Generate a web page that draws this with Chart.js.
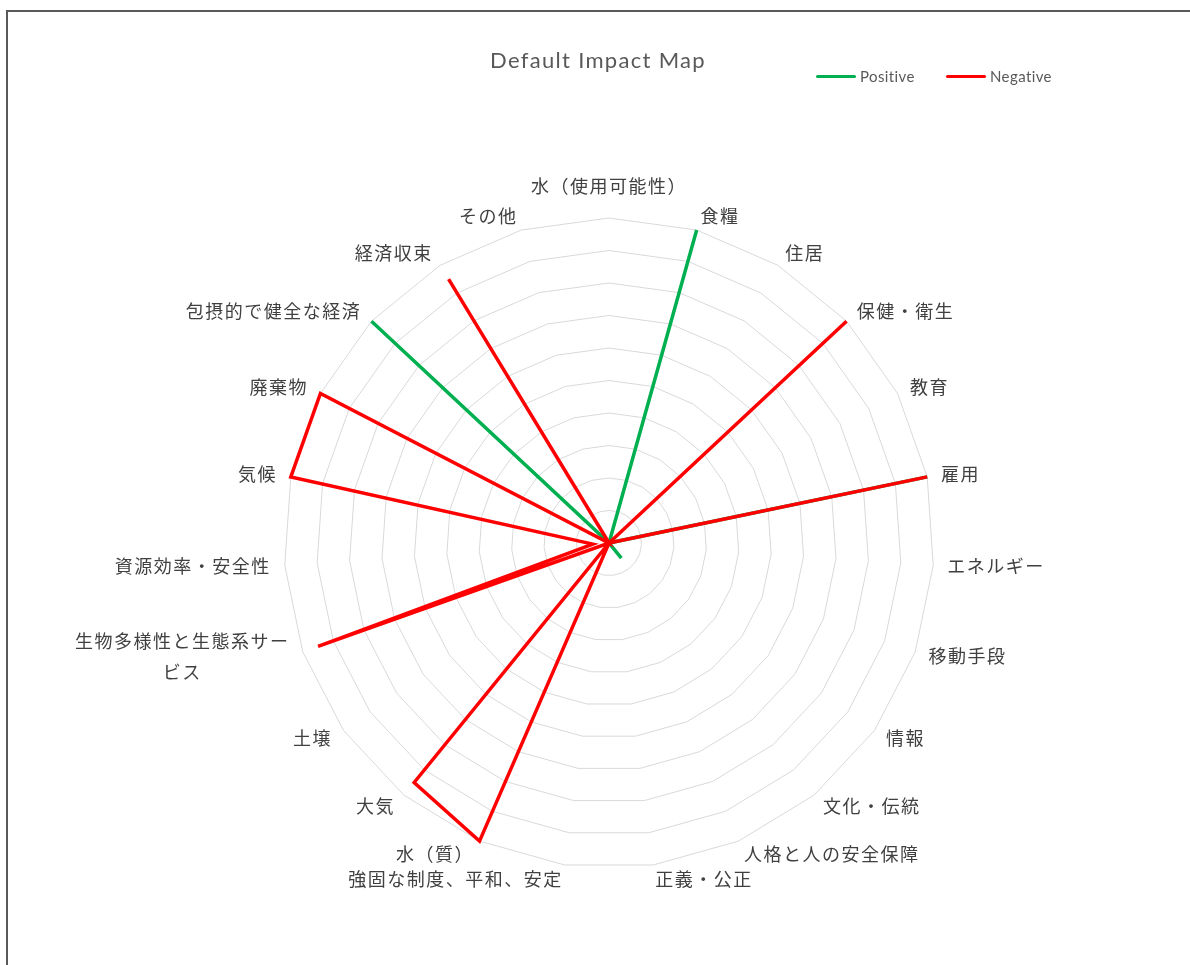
<!DOCTYPE html>
<html>
<head>
<meta charset="utf-8">
<script src="https://cdn.jsdelivr.net/npm/chart.js@4.4.1/dist/chart.umd.min.js"></script>
<style>
  html, body { margin: 0; padding: 0; background: #fff; overflow: hidden; }
  #frame { position: absolute; left: 6px; top: 10px; width: 1300px; height: 1100px; border: 2px solid #595959; box-sizing: border-box; }
  #chart { position: absolute; left: 0; top: 0; }
  #title { position: absolute; left: 0; top: 45px; width: 1196px; text-align: center; font: 22px Lato, sans-serif; letter-spacing: 1.3px; color: #595959; line-height: 30px; }
  .legend-item { position: absolute; top: 67px; height: 18px; display: flex; align-items: center; font: 15px Lato, sans-serif; color: #595959; letter-spacing: 0.4px; }
  .legend-item span.swatch { display: inline-block; width: 40px; height: 3px; border-radius: 2px; margin-right: 4px; }
</style>
</head>
<body>
<div id="frame"></div>
<canvas id="chart" width="1190" height="965"></canvas>
<div id="title">Default Impact Map</div>
<div class="legend-item" style="left:816px"><span class="swatch" style="background:#00B050"></span>Positive</div>
<div class="legend-item" style="left:946px"><span class="swatch" style="background:#FF0000"></span>Negative</div>
<script>
// categories, clockwise from the top
const categories = [
    '水（使用可能性）', '食糧', '住居', '保健・衛生', '教育', '雇用', 'エネルギー',
    '移動手段', '情報', '文化・伝統', '人格と人の安全保障', '正義・公正',
    '強固な制度、平和、安定', '水（質）', '大気', '土壌',
    ['生物多様性と生態系サー', 'ビス'], '資源効率・安全性', '気候', '廃棄物',
    '包摂的で健全な経済', '経済収束', 'その他'
];
const positiveValues = [0, 10, 0, 0, 0, 10, 0, 0, 0, 0.6, 0, 0, 0, 0, 0, 0, 0, 0, 0, 0, 10, 0, 0];
const negativeValues = [0, 0, 0, 10, 0, 10, 0, 0, 0, 0, 0, 0, 0, 10, 9.5, 0, 9.5, 0.5, 10, 10, 0, 9.5, 0];
const scaleMax = 10;

// Excel-like category labels drawn next to the outer ring
const labelPlugin = {
    id: 'impactLabels',
    afterDraw(chart) {
        const scale = chart.scales.r;
        const ctx = chart.ctx;
        const lineH = 31;
        ctx.save();
        ctx.font = '18px "Noto Sans CJK JP"';
        ctx.letterSpacing = '1.5px';
        ctx.fillStyle = '#404040';
        ctx.textBaseline = 'middle';
        ctx.textAlign = 'center';
        chart.data.labels.forEach((label, i) => {
            const lines = Array.isArray(label) ? label : [label];
            const angle = scale.getIndexAngle(i);
            const pos = scale.getPointPosition(i, scale.drawingArea + 14);
            const s = Math.sin(angle);
            const blockW = Math.max(...lines.map(l => ctx.measureText(l).width));
            let left;
            let midY = pos.y;
            if (Math.abs(s) < 0.01) {
                left = pos.x - blockW / 2;
                midY = pos.y - 18;
            } else if (s > 0) {
                left = pos.x;
            } else {
                left = pos.x - blockW;
            }
            const top = midY - lineH * (lines.length - 1) / 2;
            lines.forEach((l, k) => {
                ctx.fillText(l, left + blockW / 2, top + k * lineH);
            });
        });
        ctx.restore();
    }
};

const ctx = document.getElementById('chart').getContext('2d');
new Chart(ctx, {
    type: 'radar',
    data: {
        labels: categories,
        datasets: [
            {
                label: 'Positive',
                data: positiveValues,
                borderColor: '#00B050',
                backgroundColor: '#00B050',
                order: 1
            },
            {
                label: 'Negative',
                data: negativeValues,
                borderColor: '#FF0000',
                backgroundColor: '#FF0000',
                order: 0
            }
        ]
    },
    options: {
        responsive: false,
        animation: false,
        layout: { padding: { left: 284, right: 256, top: 218, bottom: 97 } },
        elements: {
            line: { borderWidth: 3.5, fill: false, tension: 0 },
            point: { radius: 0, hoverRadius: 0 }
        },
        scales: {
            r: {
                min: 0,
                max: scaleMax,
                ticks: { stepSize: 1, display: false },
                grid: { color: '#D9D9D9', lineWidth: 1 },
                angleLines: { display: false },
                pointLabels: { display: false }
            }
        },
        plugins: {
            legend: { display: false },
            title: { display: false },
            tooltip: { enabled: false }
        }
    },
    plugins: [labelPlugin]
});
</script>
</body>
</html>
